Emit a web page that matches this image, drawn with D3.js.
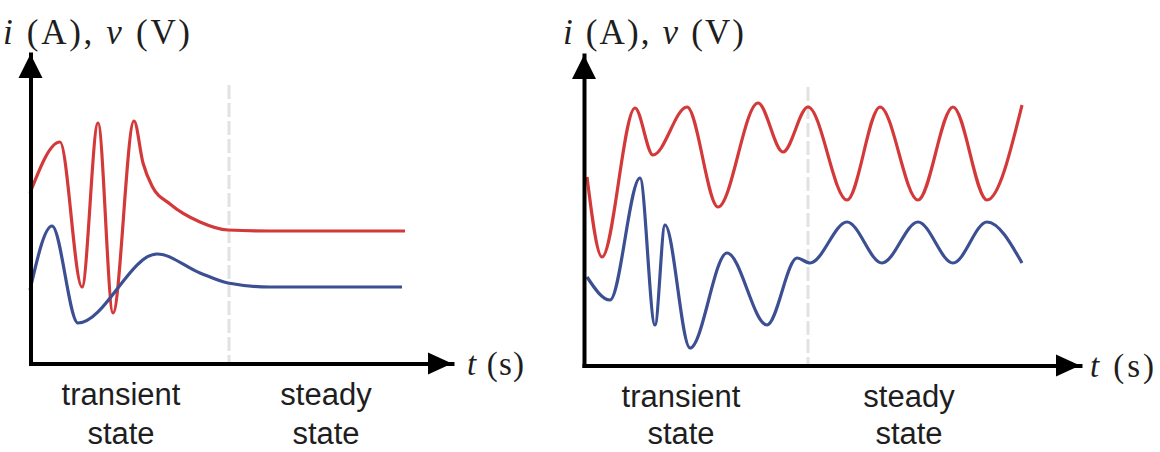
<!DOCTYPE html>
<html>
<head>
<meta charset="utf-8">
<script src="https://cdn.jsdelivr.net/npm/d3@7"></script>
<style>
  body { margin: 0; background: #fff; }
  svg { display: block; }
</style>
</head>
<body>
<svg id="chart" width="1160" height="452"></svg>
<script>
// left panel: transient that settles to DC
const leftRedT  = [0, 3, 5.2, 6.8, 8.3, 10.4, 11.3, 12.2, 14, 17, 19.8, 24, 37.5];
const leftRedV  = [16.7, 21.8, 7.3, 23.7, 4.7, 23.9, 19.7, 17.4, 15.6, 13.8, 13, 12.9, 12.9];
const leftBlueT = [0, 2.2, 4.8, 12.7, 17, 19.8, 24, 37.2];
const leftBlueV = [7, 13.4, 3.7, 10.6, 8.7, 7.7, 7.3, 7.3];

// right panel: transient that settles to a sine
const rightRedT  = [0.4, 1.9, 5.2, 7, 10.4, 13.5, 17.5, 20, 22.5, 26.4, 29.7, 33.5, 37, 40.4, 43.9];
const rightRedV  = [18.8, 10.8, 25.7, 21, 25.8, 15.8, 26.2, 21.3, 25.8, 16.5, 25.8, 16.5, 25.8, 16.5, 26];
const rightBlueT = [0.4, 2.7, 5.7, 7.2, 8.2, 10.7, 14.4, 18.4, 21.4, 22.7, 26.4, 29.9, 33.5, 37, 40.4, 43.9];
const rightBlueV = [8.8, 6.5, 18.7, 4, 14, 1.7, 11.2, 4, 10.7, 10.2, 14.3, 10.2, 14.3, 10.2, 14.3, 10.2];

// boundary between transient and steady state, in t units
const leftSplit = 19.9;
const rightSplit = 22.5;

const stateNames = [["transient", "state"], ["steady", "state"]];

const red = "#d4393a";
const blue = "#3b4f92";
const ink = "#1e1e1e";

const svg = d3.select("#chart");

drawPanel({
  x: d3.scaleLinear().domain([0.05, 42.2]).range([30.5, 452]),
  y: d3.scaleLinear().domain([-0.35, 30.6]).range([363.5, 54]),
  red: d3.zip(leftRedT, leftRedV),
  blue: d3.zip(leftBlueT, leftBlueV),
  split: leftSplit, splitTop: 27.5,
  yLabelX: 3, yLabelLen: 187,
  tLabelX: 467, tLabelLen: 57, tLabelY: 375,
  stateX: [121, 326], stateY: [405, 444]
});

drawPanel({
  x: d3.scaleLinear().domain([0.1, 49.7]).range([584, 1080]),
  y: d3.scaleLinear().domain([-0.05, 31]).range([365.5, 55]),
  red: d3.zip(rightRedT, rightRedV),
  blue: d3.zip(rightBlueT, rightBlueV),
  split: rightSplit, splitTop: 27.8,
  yLabelX: 563, yLabelLen: 181,
  tLabelX: 1090, tLabelLen: 64, tLabelY: 377,
  stateX: [681, 909], stateY: [407, 444]
});

function drawPanel(p) {
  let g = svg.append("g");
  let x = p.x, y = p.y;
  let x0 = x.range()[0], x1 = x.range()[1];
  let y0 = y.range()[0], y1 = y.range()[1];

  // dashed split line
  g.append("line")
    .attr("x1", x(p.split)).attr("x2", x(p.split))
    .attr("y1", y(p.splitTop)).attr("y2", y0)
    .attr("stroke", "#e2e2e2")
    .attr("stroke-width", 3)
    .attr("stroke-dasharray", "14 4");

  // curves
  let line = d3.line()
    .x(d => x(d[0]))
    .y(d => y(d[1]))
    .curve(d3.curveMonotoneX);

  g.append("path").datum(p.red)
    .attr("d", line)
    .attr("fill", "none")
    .attr("stroke", red)
    .attr("stroke-width", 3.2);

  g.append("path").datum(p.blue)
    .attr("d", line)
    .attr("fill", "none")
    .attr("stroke", blue)
    .attr("stroke-width", 3.2);

  // axes without ticks
  g.append("g")
    .attr("transform", "translate(0," + y0 + ")")
    .call(d3.axisBottom(x).tickValues([]).tickSizeOuter(0));
  g.append("g")
    .attr("transform", "translate(" + x0 + ",0)")
    .call(d3.axisLeft(y).tickValues([]).tickSizeOuter(0));
  g.selectAll(".domain")
    .attr("stroke", "#000")
    .attr("stroke-width", 4)
    .attr("stroke-linecap", "square");

  // arrow heads
  g.append("path")
    .attr("d", "M" + x1 + "," + y0 + "L" + (x1 - 24) + "," + (y0 - 11) + "L" + (x1 - 24) + "," + (y0 + 11) + "Z")
    .attr("fill", "#000");
  g.append("path")
    .attr("d", "M" + x0 + "," + y1 + "L" + (x0 - 12) + "," + (y1 + 24) + "L" + (x0 + 12) + "," + (y1 + 24) + "Z")
    .attr("fill", "#000");

  // y label: i (A), v (V)
  let yl = g.append("text")
    .attr("x", p.yLabelX).attr("y", 44)
    .attr("textLength", p.yLabelLen)
    .attr("lengthAdjust", "spacing")
    .style("font-family", "'Liberation Serif', serif")
    .style("font-size", "35px")
    .attr("fill", ink);
  yl.append("tspan").style("font-style", "italic").text("i");
  yl.append("tspan").text(" (A), ");
  yl.append("tspan").style("font-style", "italic").text("v");
  yl.append("tspan").text(" (V)");

  // t label
  let tl = g.append("text")
    .attr("x", p.tLabelX).attr("y", p.tLabelY)
    .attr("textLength", p.tLabelLen)
    .attr("lengthAdjust", "spacing")
    .style("font-family", "'Liberation Serif', serif")
    .style("font-size", "33px")
    .attr("fill", ink);
  tl.append("tspan").style("font-style", "italic").text("t");
  tl.append("tspan").text(" (s)");

  // state captions
  stateNames.forEach((words, i) => {
    g.selectAll(null)
      .data(words)
      .enter()
      .append("text")
      .attr("x", p.stateX[i])
      .attr("y", (d, j) => p.stateY[j])
      .attr("text-anchor", "middle")
      .style("font-family", "'Liberation Sans', Arial, sans-serif")
      .style("font-size", "31px")
      .attr("fill", ink)
      .text(d => d);
  });
}
</script>
</body>
</html>
